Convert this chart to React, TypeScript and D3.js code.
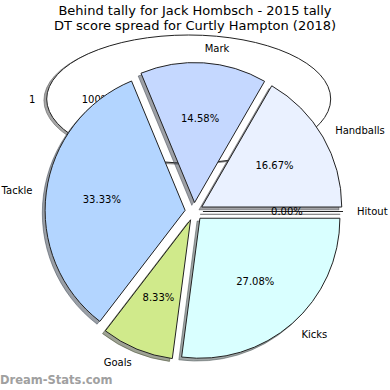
import React from 'react';
import * as d3 from 'd3';

// slice data, counter-clockwise from 3 o'clock
const labels = ['Handballs', 'Mark', 'Tackle', 'Goals', 'Kicks', 'Hitout'];
const values = [8, 7, 16, 4, 13, 0];
const colors = ['#eaf1ff', '#c5d8ff', '#b3d5ff', '#d0ea8b', '#d9ffff', '#ffffff'];

// the leftover pie drawn behind
const bgLabels = ['1'];
const bgValues = [100];

const titleLines = [
    'Behind tally for Jack Hombsch - 2015 tally',
    'DT score spread for Curtly Hampton (2018)',
];

const W = 390;
const H = 390;
const font = 'DejaVu Sans, sans-serif';

const App = () => {
    const cx = 194;
    const cy = 211.5;
    // relative radius -> pixels
    const r = d3.scaleLinear().domain([0, 1]).range([0, 140]);
    const explode = 0.064;

    const pie = d3.pie<number>()
        .sort(null)
        .startAngle(Math.PI / 2)
        .endAngle(Math.PI / 2 - 2 * Math.PI);
    const arcs = pie(values);
    const arc = d3.arc<d3.PieArcDatum<number>>().innerRadius(0).outerRadius(r(1));
    const total = d3.sum(values);

    // background ellipse pie
    const bx = 188.7;
    const by = 99;
    const bgX = d3.scaleLinear().domain([-1, 1]).range([bx - 142, bx + 142]);
    const bgY = d3.scaleLinear().domain([-1, 1]).range([by - 64, by + 64]);
    const bgArcs = d3.pie<number>().sort(null).startAngle(Math.PI / 2).endAngle(Math.PI / 2 - 2 * Math.PI)(bgValues);
    const unitArc = d3.arc<d3.PieArcDatum<number>>().innerRadius(0).outerRadius(1);

    const dir = (d: d3.PieArcDatum<number>) => {
        const a = (d.startAngle + d.endAngle) / 2;
        return [Math.sin(a), -Math.cos(a)];
    };

    const shadowColor = (c: string) => {
        const col = d3.rgb(c);
        return d3.rgb(col.r * 0.3, col.g * 0.3, col.b * 0.3).toString();
    };

    return (
        <svg width={W} height={H} style={{ position: 'absolute', left: 0, top: 0, background: '#fff' }}>
            {titleLines.map((t, i) => (
                <text key={t} x={195} y={14.5 + i * 15} textAnchor="middle" fontFamily={font} fontSize={13} fill="#000">{t}</text>
            ))}

            {/* background pie */}
            {bgArcs.map((d, i) => {
                const [ux, uy] = dir(d);
                return (
                    <g key={'bg' + i}>
                        <path d={unitArc(d) || ''} transform={`translate(${bx - 2.8},${by + 1.3}) scale(142,64)`}
                            fill={shadowColor('#ffffff')} fillOpacity={0.5} stroke={shadowColor('#ffffff')} strokeOpacity={0.5}
                            strokeWidth={1} vectorEffect="non-scaling-stroke" />
                        <path d={unitArc(d) || ''} transform={`translate(${bx},${by}) scale(142,64)`}
                            fill="#ffffff" stroke="#222" strokeWidth={1} vectorEffect="non-scaling-stroke" />
                        <text x={bgX(ux * 1.08)} y={bgY(uy * 1.08)} textAnchor={ux > 0 ? 'start' : 'end'}
                            dominantBaseline="central" fontFamily={font} fontSize={10}>{bgLabels[i]}</text>
                        <text x={bgX(ux * 0.653)} y={bgY(uy * 0.653)} textAnchor="middle"
                            dominantBaseline="central" fontFamily={font} fontSize={10}>{bgValues[i].toFixed(0)}%</text>
                    </g>
                );
            })}

            {/* shadows */}
            {arcs.map((d, i) => {
                const [ux, uy] = dir(d);
                const ox = cx + r(explode) * ux - 2.8;
                const oy = cy + r(explode) * uy + 2.8;
                const sc = shadowColor(colors[i]);
                return (
                    <path key={'s' + i} d={arc(d) || ''} transform={`translate(${ox},${oy})`}
                        fill={sc} fillOpacity={0.5} stroke={sc} strokeOpacity={0.5} strokeWidth={1} />
                );
            })}

            {/* wedges */}
            {arcs.map((d, i) => {
                const [ux, uy] = dir(d);
                const ox = cx + r(explode) * ux;
                const oy = cy + r(explode) * uy;
                return (
                    <path key={'w' + i} d={arc(d) || ''} transform={`translate(${ox},${oy})`}
                        fill={colors[i]} stroke="#222" strokeWidth={1} />
                );
            })}

            {/* labels */}
            {arcs.map((d, i) => {
                const [ux, uy] = dir(d);
                const ox = cx + r(explode) * ux;
                const oy = cy + r(explode) * uy;
                const pct = (values[i] / total * 100).toFixed(2) + '%';
                return (
                    <g key={'t' + i} fontFamily={font} fontSize={10} fill="#000">
                        <text x={ox + r(1.1) * ux} y={oy + r(1.1) * uy} textAnchor={ux > 0.0001 || (ux >= 0 && i === 5) ? 'start' : 'end'}
                            dominantBaseline="central">{labels[i]}</text>
                        <text x={ox + r(0.6) * ux} y={oy + r(0.6) * uy} textAnchor="middle"
                            dominantBaseline="central">{pct}</text>
                    </g>
                );
            })}

            <text x={0} y={384} fontFamily={font} fontSize={11.5} fontWeight="bold" fill="#a0a0a0">Dream-Stats.com</text>
        </svg>
    );
};

export default App;
